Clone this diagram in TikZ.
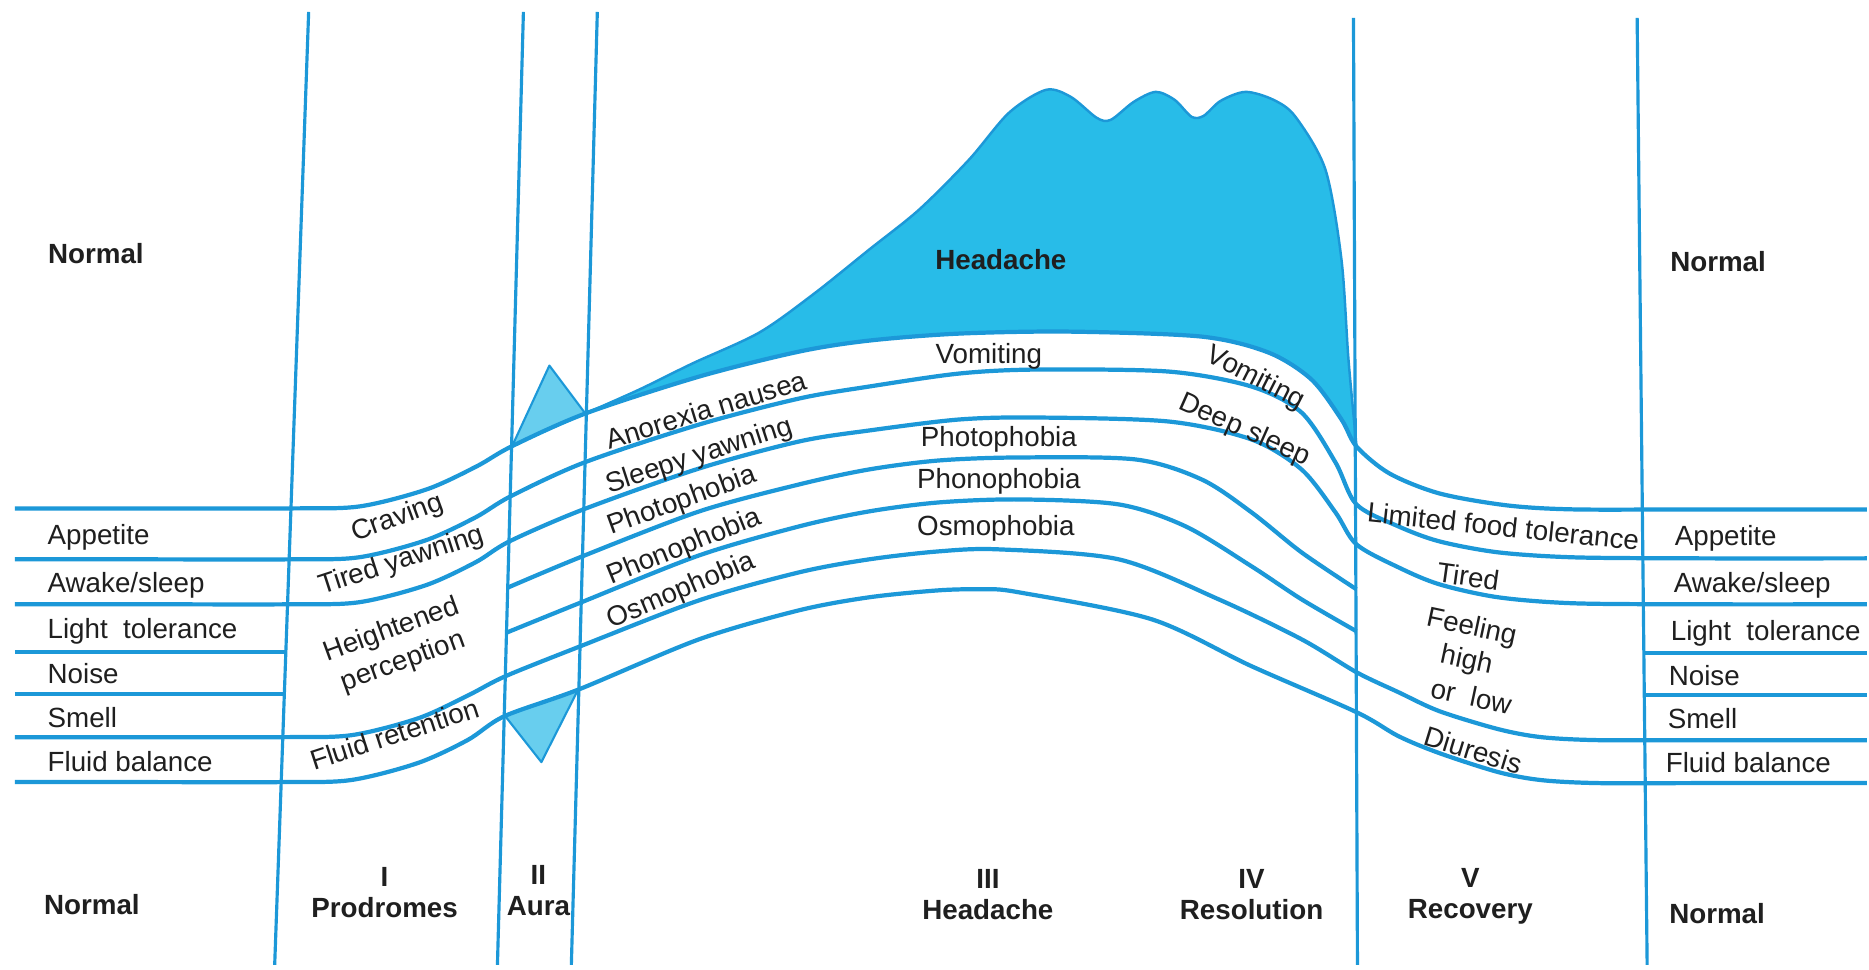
\documentclass[tikz,border=0pt]{standalone}
\usepackage{fontspec}
\setmainfont{Liberation Sans}
\usepackage{tikz}
\usetikzlibrary{positioning}

\definecolor{migblue}{RGB}{28,152,216}
\definecolor{migfill}{RGB}{40,188,232}
\definecolor{aurafill}{RGB}{104,206,238}

\begin{document}
\begin{tikzpicture}[
  x=0.01cm, y=-0.01cm,
  font=\fontsize{7.9}{8.6}\selectfont,
  bandline/.style={
    draw=migblue,
    line width=1.2pt,
    line join=round
  },
  divider/.style={
    draw=migblue,
    line width=0.9pt
  },
  spike/.style={
    fill=aurafill,
    draw=migblue,
    line width=0.6pt,
    line join=round
  },
  lbl/.style={
    inner sep=0pt,
    text=black!88
  },
  boldlbl/.style={
    lbl,
    font=\fontsize{7.9}{8.6}\selectfont\bfseries
  },
  phaselbl/.style={
    lbl,
    font=\fontsize{7.9}{8.8}\selectfont\bfseries,
    align=center
  }
]
  \fill[white] (0,0) rectangle (1869,971);

  % headache area
  \fill[migfill] plot[smooth] coordinates {(586,414) (640,390) (693,364) (760,333) (815,294) (870,250) (920,210) (970,160) (1010,113) (1047,90) (1072,97) (1098,118) (1112,120) (1135,102) (1157,92) (1176,100) (1193,117) (1205,116) (1222,101) (1247,92) (1275,100) (1297,117) (1327,170) (1343,260) (1350,360) (1358,446)}
    -- plot[smooth] coordinates {(1358,447) (1343,420) (1313,380) (1270,353) (1203,337) (1070,332) (960,334) (870,341) (800,352) (700,377) (586,414)} -- cycle;
  \draw[migblue, line width=0.7pt] plot[smooth] coordinates {(586,414) (640,390) (693,364) (760,333) (815,294) (870,250) (920,210) (970,160) (1010,113) (1047,90) (1072,97) (1098,118) (1112,120) (1135,102) (1157,92) (1176,100) (1193,117) (1205,116) (1222,101) (1247,92) (1275,100) (1297,117) (1327,170) (1343,260) (1350,360) (1358,446)};

  % aura spikes
  \filldraw[spike] (513,446) -- (550,366) -- (586,414) -- cycle;
  \filldraw[spike] (505,716) -- (542,763) -- (579,690) -- cycle;

  % bands
  \draw[bandline] plot[smooth] coordinates {(15,509) (150,509) (291,509) (360,507) (427,490) (477,467) (512,447) (586,414) (700,377) (800,352) (870,341) (960,334) (1070,332) (1203,337) (1270,353) (1313,380) (1343,420) (1358,447) (1391,474) (1441,494) (1509,506) (1576,510) (1700,510) (1869,510)};
  \draw[bandline] plot[smooth] coordinates {(15,560) (150,560) (290,560) (359,558) (426,541) (476,518) (511,497) (585,463) (700,425) (800,399) (870,387) (960,374) (1037,370) (1170,372) (1253,387) (1303,413) (1337,463) (1358,505) (1400,527) (1441,542) (1500,553) (1576,558) (1700,559) (1869,559)};
  \draw[bandline] plot[smooth] coordinates {(15,605) (150,605) (290,605) (359,603) (426,586) (476,563) (510,542) (584,510) (700,469) (800,442) (870,431) (960,420) (1037,418) (1170,422) (1253,440) (1303,470) (1337,513) (1358,545) (1400,568) (1441,585) (1500,598) (1576,604) (1700,605) (1869,605)};
  \draw[bandline] plot[smooth] coordinates {(509,588) (583,557) (700,512) (800,485) (870,470) (940,461) (1020,458) (1137,460) (1203,480) (1253,513) (1303,553) (1358,590)};
  \draw[bandline] plot[smooth] coordinates {(508,633) (582,603) (700,556) (800,527) (870,512) (940,503) (1020,500) (1120,505) (1187,527) (1253,567) (1303,600) (1358,632)};
  \draw[bandline] plot[smooth] coordinates {(15,738) (150,738) (283,738) (352,736) (419,719) (469,696) (506,677) (581,647) (700,601) (800,573) (870,560) (940,552) (1000,550) (1120,560) (1220,600) (1303,640) (1358,673) (1400,693) (1441,712) (1500,730) (1543,738) (1600,741) (1700,741) (1869,741)};
  \draw[bandline] plot[smooth] coordinates {(15,783) (150,783) (282,783) (351,781) (418,764) (468,741) (505,717) (580,690) (700,640) (800,611) (870,598) (940,591) (985,590) (1020,593) (1153,620) (1253,667) (1358,713) (1400,737) (1441,754) (1500,773) (1543,781) (1600,784) (1700,784) (1869,784)};
  \draw[bandline] (15,653) -- (287,653);
  \draw[bandline] (15,695) -- (285,695);
  \draw[bandline] (1645,654) -- (1869,654);
  \draw[bandline] (1646,696) -- (1869,696);

  % phase dividers
  \draw[divider] (309,12) -- (275,966);
  \draw[divider] (524,12) -- (498,966);
  \draw[divider] (598,12) -- (572,966);
  \draw[divider] (1355,18) -- (1359,966);
  \draw[divider] (1639,18) -- (1649,966);

  % normal state
  \node[boldlbl] (normTL) at (96,254) {Normal};
  \node[boldlbl] (normBL) at (92,906) {Normal};
  \node[boldlbl] (normTR) at (1720,262) {Normal};
  \node[boldlbl] (normBR) at (1719,915) {Normal};

  \foreach \yy/\txt [count=\i] in {545/Appetite, 593/{Awake/sleep}, 639/Light\ \ tolerance, 684/Noise, 728/Smell, 772/Fluid balance} {
    \node[lbl, anchor=base west] (left\i) at (47,\yy) {\txt};
  }
  \foreach \xx/\yy/\txt [count=\i] in {1676/546/Appetite, 1675/593/{Awake/sleep}, 1672/641/Light\ \ tolerance, 1670/686/Noise, 1669/729/Smell, 1667/773/Fluid balance} {
    \node[lbl, anchor=base west] (right\i) at (\xx,\yy) {\txt};
  }

  % prodromes
  \node[lbl, rotate=20] (craving) at (398,519) {Craving};
  \node[lbl, rotate=18] (tiredyawn) at (402,562) {Tired yawning};
  \node[lbl, rotate=20, align=center, font=\fontsize{7.9}{9.6}\selectfont] (heightened) at (398,647) {Heightened\\perception};
  \node[lbl, rotate=18] (fluidret) at (395,735) {Fluid retention};

  % headache
  \node[boldlbl] (headache) at (1002,260) {Headache};
  \node[lbl, rotate=17] (anorexia) at (707,410) {Anorexia nausea};
  \node[lbl, rotate=18] (sleepy) at (700,457) {Sleepy yawning};
  \node[lbl, rotate=20] (photoA) at (683,502) {Photophobia};
  \node[lbl, rotate=22] (phonoA) at (685,548) {Phonophobia};
  \node[lbl, rotate=23] (osmoA) at (682,592) {Osmophobia};
  \node[lbl] (vomitA) at (990,357) {Vomiting};
  \node[lbl] (photoB) at (1000,440) {Photophobia};
  \node[lbl] (phonoB) at (1000,482) {Phonophobia};
  \node[lbl] (osmoB) at (997,529) {Osmophobia};

  % resolution
  \node[lbl, rotate=-27] (vomitB) at (1257,379) {Vomiting};
  \node[lbl, rotate=-24] (deepsleep) at (1246,431) {Deep sleep};

  % recovery
  \node[lbl, rotate=-6] (limited) at (1505,527) {Limited food tolerance};
  \node[lbl, rotate=-8] (tired) at (1470,577) {Tired};
  \node[lbl, rotate=-12] (feeling) at (1473,629) {Feeling};
  \node[lbl, rotate=-12] (high) at (1468,662) {high};
  \node[lbl, rotate=-12] (orlow) at (1473,697) {or\ \ low};
  \node[lbl, rotate=-17] (diuresis) at (1475,751) {Diuresis};

  % phases
  \node[phaselbl] (ph1) at (385,894) {I\\Prodromes};
  \node[phaselbl] (ph2) at (539,892) {II\\Aura};
  \node[phaselbl] (ph3) at (989,896) {III\\Headache};
  \node[phaselbl] (ph4) at (1253,896) {IV\\Resolution};
  \node[phaselbl] (ph5) at (1472,897) {V\\Recovery};
\end{tikzpicture}
\end{document}
